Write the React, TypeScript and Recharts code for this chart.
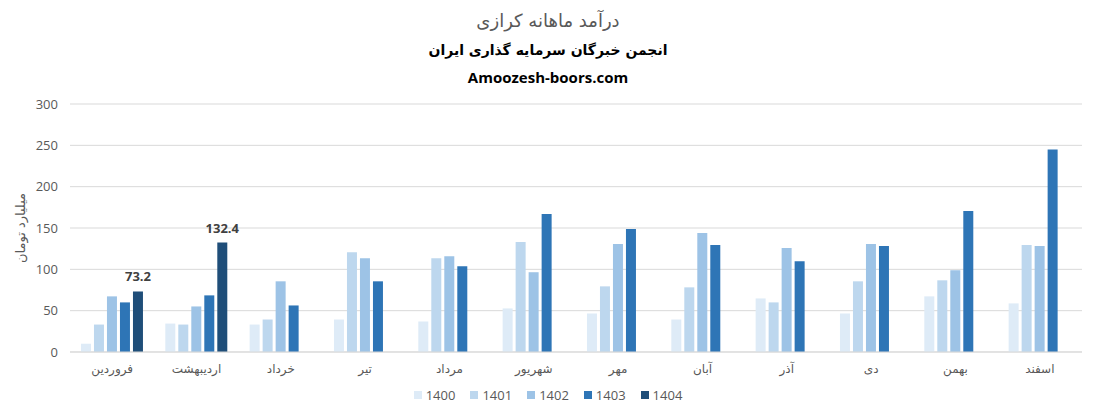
import React from 'react';
import { BarChart, Bar, XAxis, YAxis, CartesianGrid, LabelList } from 'recharts';

const months = ['فروردین', 'اردیبهشت', 'خرداد', 'تیر', 'مرداد', 'شهریور', 'مهر', 'آبان', 'آذر', 'دی', 'بهمن', 'اسفند'];
const y1400 = [10, 34.4, 33.2, 39.3, 36.9, 52.7, 46.6, 39.3, 64.8, 46.6, 67.3, 58.8];
const y1401 = [33.2, 33.2, 39.3, 120.8, 113.5, 133, 79.4, 78.2, 60, 85.5, 86.7, 129.3];
const y1402 = [67.3, 55.1, 85.5, 113.5, 115.9, 96.5, 130.5, 143.9, 125.7, 130.5, 98.9, 128.1];
const y1403 = [60, 68.5, 56.3, 85.5, 103.8, 167, 148.8, 129.3, 109.9, 128.1, 170.7, 244.9];
const y1404: (number | null)[] = [73.2, 132.4, null, null, null, null, null, null, null, null, null, null];
const yTicks = [0, 50, 100, 150, 200, 250, 300];

const series = [
    { key: 'y1400', name: '1400', color: '#DEEBF7' },
    { key: 'y1401', name: '1401', color: '#BDD7EE' },
    { key: 'y1402', name: '1402', color: '#9DC3E6' },
    { key: 'y1403', name: '1403', color: '#2E75B6' },
    { key: 'y1404', name: '1404', color: '#1F4E79' },
];

const data = months.map((m, i) => ({
    month: m,
    y1400: y1400[i],
    y1401: y1401[i],
    y1402: y1402[i],
    y1403: y1403[i],
    y1404: y1404[i],
}));

const gray = '#595959';
const persianFont = '"DejaVu Sans", sans-serif';
const numFont = '"Open Sans", "Liberation Sans", sans-serif';

export default function App() {
    return (
        <div style={{ position: 'absolute', left: 0, top: 0, width: 1096, height: 417, background: '#fff' }}>
            {/* Titles */}
            <div style={{ position: 'absolute', top: 10, width: 1096, textAlign: 'center', fontFamily: persianFont, fontSize: 18, color: gray, direction: 'rtl' }}>
                درآمد ماهانه کرازی
            </div>
            <div style={{ position: 'absolute', top: 42, width: 1096, textAlign: 'center', fontFamily: persianFont, fontSize: 14, fontWeight: 'bold', color: '#000', direction: 'rtl' }}>
                انجمن خبرگان سرمایه گذاری ایران
            </div>
            <div style={{ position: 'absolute', top: 67, width: 1096, textAlign: 'center', fontFamily: numFont, fontSize: 15, fontWeight: 'bold', color: '#000' }}>
                Amoozesh-boors.com
            </div>

            {/* Y axis title */}
            <div style={{ position: 'absolute', left: 20, top: 228, transform: 'translate(-50%, -50%) rotate(-90deg)', fontFamily: persianFont, fontSize: 13, color: gray, whiteSpace: 'nowrap', direction: 'rtl' }}>
                میلیارد تومان
            </div>

            <div style={{ position: 'absolute', left: 0, top: 0 }}>
                <BarChart
                    width={1096}
                    height={417}
                    data={data}
                    margin={{ top: 104, right: 14, left: 0, bottom: 35 }}
                    barCategoryGap="13%"
                    barGap={3}
                >
                    <CartesianGrid vertical={false} stroke="#D9D9D9" />
                    <XAxis
                        dataKey="month"
                        height={30}
                        axisLine={{ stroke: '#D9D9D9' }}
                        tickLine={false}
                        tick={{ fontSize: 12, fill: gray, fontFamily: persianFont }}
                        tickMargin={6}
                        interval={0}
                    />
                    <YAxis
                        width={70}
                        domain={[0, 300]}
                        ticks={yTicks}
                        axisLine={false}
                        tickLine={false}
                        tick={{ fontSize: 13, fill: gray, fontFamily: numFont }}
                        tickMargin={6}
                    />
                    {series.map((s) => (
                        <Bar key={s.key} dataKey={s.key} name={s.name} fill={s.color} isAnimationActive={false}>
                            {s.key === 'y1404' && (
                                <LabelList
                                    dataKey="y1404"
                                    position="top"
                                    offset={10}
                                    style={{ fontSize: 13, fontWeight: 'bold', fill: '#404040', fontFamily: numFont }}
                                />
                            )}
                        </Bar>
                    ))}
                </BarChart>
            </div>

            {/* Legend */}
            <div style={{ position: 'absolute', top: 386, width: 1096, display: 'flex', justifyContent: 'center', gap: 15, fontFamily: numFont, fontSize: 13, color: gray }}>
                {series.map((s) => (
                    <div key={s.key} style={{ display: 'flex', alignItems: 'center', gap: 4 }}>
                        <span style={{ width: 8, height: 8, background: s.color, display: 'inline-block' }} />
                        <span>{s.name}</span>
                    </div>
                ))}
            </div>
        </div>
    );
}
